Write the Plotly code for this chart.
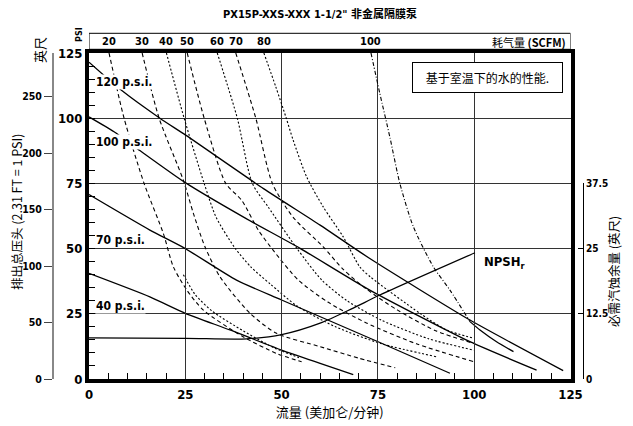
import plotly.graph_objects as go

# ---------------- data ----------------
# Discharge pressure curves: flow (US gpm) vs head (psi)
flow_120psi = [0, 8.6, 18.4, 25.1, 45.3, 60, 72.9, 98.9, 123.1]
head_120psi = [121.5, 110.5, 100, 93.5, 73, 59, 46.2, 22.6, 3.2]
flow_100psi = [0, 6.5, 13.3, 25, 40.7, 54.8, 73, 98.9, 116.2]
head_100psi = [100.5, 94.8, 87.5, 75.3, 61.6, 50.1, 34, 14.3, 3.4]
flow_70psi = [0, 15.8, 24.9, 38.3, 50, 75.5, 93.7]
head_70psi = [70.7, 57.1, 50.1, 37.9, 30.3, 14, 2.2]
flow_40psi = [0, 15.8, 25, 36.6, 50, 60, 68.6]
head_40psi = [40.5, 31.5, 25.2, 18.8, 11.1, 6, 1.7]
pressure_labels = ["120 p.s.i.", "100 p.s.i.", "70 p.s.i.", "40 p.s.i."]

# Air consumption curves (SCFM)
flow_scfm20 = [5.2, 9.1, 14.3, 19.3, 21.9, 25.4, 29.7, 40, 48.7, 55.2]
head_scfm20 = [125, 100, 75, 55.8, 43, 34.1, 26.4, 16.2, 9.8, 6.6]
flow_scfm20b = [24.5, 27.5, 32, 40, 48, 54.5]
head_scfm20b = [40, 32.5, 26, 18.5, 12, 8.2]
flow_scfm30 = [13.8, 18.2, 24.5, 27.1, 30.1, 34, 41.8, 48.7, 60, 70, 79.5]
head_scfm30 = [125, 100, 76.2, 63.5, 50.7, 39.2, 25.2, 17.5, 12.4, 8, 4.3]
flow_scfm40 = [20.1, 24.7, 29.9, 33, 38, 42, 47, 54, 64, 76, 90.3]
head_scfm40 = [125, 100, 75, 62, 50, 43, 36.5, 28, 20, 13.5, 8.5]
flow_scfm50 = [25.5, 29.9, 35.5, 39.6, 44, 48, 54.3, 62, 72, 85, 100]
head_scfm50 = [125, 100, 75, 68.6, 57, 49, 38, 29.5, 21.5, 13.5, 6.6]
flow_scfm60 = [33.3, 38.5, 42.4, 46.5, 54, 60.4, 67, 76, 88, 100]
head_scfm60 = [125, 100, 75, 66, 50, 38, 30, 22.5, 15.5, 11]
flow_scfm70 = [38.1, 43.3, 47.6, 53, 60.8, 66, 72, 80, 90, 100]
head_scfm70 = [125, 100, 75, 62, 50.7, 42, 34.5, 26.5, 18.5, 13.6]
flow_scfm80 = [45.4, 48.5, 51.1, 53, 56.5, 60.8, 66, 70.3, 73, 85.9, 92.8, 100]
head_scfm80 = [125, 112, 100.5, 91.6, 77.5, 66, 54.5, 43, 39.2, 25.2, 18.8, 15.6]
flow_scfm100 = [73.2, 75.5, 78.1, 80.7, 84.2, 89.4, 93.7, 98.9]
head_scfm100 = [125, 109.5, 92.8, 75, 58.4, 43, 34.1, 22]
flow_scfm100_end = [98.9, 101.5, 105.8, 110.2]
head_scfm100_end = [22, 18.8, 14.3, 10.5]
scfm_labels = ["20", "30", "40", "50", "60", "70", "80", "100"]

# NPSHr (ft)
flow_npsh = [0, 25, 41, 50, 60, 68.6, 75.5, 100.2]
npsh_ft = [7.9, 7.8, 7.7, 8.5, 10.7, 13.6, 16.1, 24.2]

# axes
flow_ticks = [0, 25, 50, 75, 100, 125]
psi_ticks = [0, 25, 50, 75, 100, 125]
feet_ticks = [0, 50, 100, 150, 200, 250]
npsh_ticks = [0, 12.5, 25, 37.5]
npsh_ticktext = ["0", "12.5", "25", "37.5"]
FT_PER_PSI = 2.31

# ---------------- layout geometry ----------------
OFF = 8                      # page body margin of the browser
W, H = 625, 418              # figure size (page minus body margin)
X0_PX, X1_PX = 89, 570.5     # plot area, page pixels
Y0_PX, Y1_PX = 53, 379
ML = 22
MR = 40
MT = Y0_PX - OFF
MB = H - (Y1_PX - OFF)
PW = W - ML - MR
PH = H - MT - MB


def pxx(page_x):
    return (page_x - OFF - ML) / PW


def pxy(page_y):
    return (H - MB - (page_y - OFF)) / PH


dom0 = pxx(X0_PX)
dom1 = pxx(X1_PX)
feet_pos = pxx(53)
npsh_pos = pxx(583)

NUM = "Liberation Sans Narrow, Arial Narrow, DejaVu Sans Condensed, sans-serif"
CJK = "Noto Sans CJK SC"

fig = go.Figure()

solid = dict(color="black", width=1.3, shape="spline", smoothing=0.6)
for fx, hy in [(flow_120psi, head_120psi), (flow_100psi, head_100psi),
               (flow_70psi, head_70psi), (flow_40psi, head_40psi)]:
    fig.add_trace(go.Scatter(x=fx, y=hy, mode="lines", line=solid,
                             showlegend=False, hoverinfo="skip"))

DASH = "4px,3px"
DOT = "2px,2px"
DASHDOT = "4px,2px,1px,2px"
scfm_sets = [
    (flow_scfm20, head_scfm20, DASH),
    (flow_scfm30, head_scfm30, DASH),
    (flow_scfm40, head_scfm40, DOT),
    (flow_scfm50, head_scfm50, DASH),
    (flow_scfm60, head_scfm60, DOT),
    (flow_scfm70, head_scfm70, DASH),
    (flow_scfm80, head_scfm80, DOT),
    (flow_scfm100, head_scfm100, DASHDOT),
]
for fx, hy, dsh in scfm_sets:
    fig.add_trace(go.Scatter(x=fx, y=hy, mode="lines",
                             line=dict(color="black", width=1.1, dash=dsh,
                                       shape="spline", smoothing=0.7),
                             showlegend=False, hoverinfo="skip"))
fig.add_trace(go.Scatter(x=flow_scfm20b, y=head_scfm20b, mode="lines",
                         line=dict(color="black", width=1.1, dash=DOT,
                                   shape="spline", smoothing=0.7),
                         showlegend=False, hoverinfo="skip"))
fig.add_trace(go.Scatter(x=flow_scfm100_end, y=head_scfm100_end, mode="lines",
                         line=solid, showlegend=False, hoverinfo="skip"))

# NPSHr on its own right axis
fig.add_trace(go.Scatter(x=flow_npsh, y=npsh_ft, mode="lines", yaxis="y3",
                         line=dict(color="black", width=1.3, shape="spline", smoothing=0.8),
                         showlegend=False, hoverinfo="skip"))
# feet axis carrier
fig.add_trace(go.Scatter(x=[None], y=[None], yaxis="y2", showlegend=False,
                         hoverinfo="skip"))

annotations = []
# pressure labels
for txt, yv in zip(pressure_labels, [113.8, 90.8, 53.3, 28.0]):
    annotations.append(dict(x=1.6, y=yv, xref="x", yref="y", text="<b>%s</b>" % txt,
                            showarrow=False, xanchor="left", yanchor="middle",
                            font=dict(family=NUM, size=12, color="black"),
                            bgcolor="white", borderpad=0))
# SCFM labels in the top strip
strip_y = pxy(41.5)
for fx, lab in zip([s[0] for s in scfm_sets], scfm_labels):
    annotations.append(dict(x=fx[0], y=strip_y, xref="x", yref="paper", text="<b>%s</b>" % lab,
                            showarrow=False, xanchor="center", yanchor="middle",
                            font=dict(family=NUM, size=11, color="black")))
annotations.append(dict(x=124.3, y=strip_y, xref="x", yref="paper",
                        text="耗气量 <b>(SCFM)</b>", showarrow=False,
                        xanchor="right", yanchor="middle",
                        font=dict(family=CJK + ", " + NUM, size=11, color="black")))
annotations.append(dict(x=pxx(79), y=pxy(35), xref="paper", yref="paper",
                        text="<b>PSI</b>", textangle=-90, showarrow=False,
                        xanchor="center", yanchor="middle",
                        font=dict(family=NUM, size=9, color="black")))
annotations.append(dict(x=pxx(39), y=pxy(50), xref="paper", yref="paper",
                        text="英尺", textangle=-90, showarrow=False,
                        xanchor="center", yanchor="middle",
                        font=dict(family=CJK, size=13, color="black")))
# axis titles placed explicitly
annotations.append(dict(x=pxx(16), y=pxy(212), xref="paper", yref="paper",
                        text="排出总压头 (2.31 FT = 1 PSI)", textangle=-90, showarrow=False,
                        xanchor="center", yanchor="middle",
                        font=dict(family=CJK, size=12.5, color="black")))
annotations.append(dict(x=pxx(613), y=pxy(272), xref="paper", yref="paper",
                        text="必需汽蚀余量 (英尺)", textangle=-90, showarrow=False,
                        xanchor="center", yanchor="middle",
                        font=dict(family=CJK, size=12.5, color="black")))
annotations.append(dict(x=103.4, y=115.5, xref="x", yref="y",
                        text="基于室温下的水的性能.", showarrow=False,
                        width=139, height=19, borderpad=5, borderwidth=1,
                        bordercolor="black", bgcolor="white",
                        font=dict(family=CJK, size=12, color="black")))
annotations.append(dict(x=102, y=44.8, xref="x", yref="y",
                        text="<b>NPSH<sub>r</sub></b>", showarrow=False,
                        xanchor="left", yanchor="middle",
                        font=dict(family=NUM, size=13, color="black")))

shapes = [dict(type="rect", xref="x", yref="paper", x0=flow_ticks[0], x1=flow_ticks[-1],
               y0=pxy(49.3), y1=pxy(33.3),
               line=dict(color="black", width=1), fillcolor="rgba(0,0,0,0)")]

tickfont_main = dict(family=NUM, size=13, color="black", weight="bold")

fig.update_layout(
    width=W, height=H,
    margin=dict(l=ML, r=MR, t=MT, b=MB, pad=0),
    paper_bgcolor="white", plot_bgcolor="rgba(0,0,0,0)",
    title=dict(text="<b>PX15P-XXS-XXX 1-1/2\" 非金属隔膜泵</b>", x=(320 - OFF) / W,
               xref="container", y=1 - (14 - OFF) / H, yref="container",
               xanchor="center", yanchor="middle",
               font=dict(family=NUM + ", " + CJK, size=11, color="black")),
    xaxis=dict(domain=[dom0, dom1], range=[flow_ticks[0], flow_ticks[-1]],
               tickvals=flow_ticks, ticks="inside", ticklen=6, tickcolor="black",
               minor=dict(dtick=5, ticks="inside", ticklen=6, tickcolor="black", showgrid=False),
               showline=True, linecolor="black", linewidth=4, mirror=True,
               showgrid=True, gridcolor="#333", gridwidth=1, zeroline=False,
               tickfont=tickfont_main,
               title=dict(text="流量 (美加仑/分钟)", standoff=6,
                          font=dict(family=CJK, size=13, color="black")),
               automargin=False),
    yaxis=dict(domain=[0, 1], range=[psi_ticks[0], psi_ticks[-1]],
               tickvals=psi_ticks, ticks="inside", ticklen=6, tickcolor="black",
               minor=dict(dtick=5, ticks="inside", ticklen=6, tickcolor="black", showgrid=False),
               showline=True, linecolor="black", linewidth=4, mirror=True,
               showgrid=True, gridcolor="#333", gridwidth=1, zeroline=False,
               tickfont=tickfont_main, automargin=False),
    yaxis2=dict(overlaying="y", anchor="free", position=feet_pos, side="left",
                range=[psi_ticks[0] * FT_PER_PSI, psi_ticks[-1] * FT_PER_PSI],
                tickvals=feet_ticks, ticks="outside", ticklen=8, tickcolor="#444",
                showline=True, linecolor="#888", linewidth=2, showgrid=False, zeroline=False,
                tickfont=dict(family=NUM, size=10.5, color="black", weight="bold"),
                automargin=False),
    yaxis3=dict(anchor="free", position=npsh_pos, side="right", domain=[0, 0.6],
                range=[npsh_ticks[0], npsh_ticks[-1]],
                tickvals=npsh_ticks, ticktext=npsh_ticktext,
                ticks="inside", ticklen=5, tickcolor="black",
                showline=True, linecolor="black", linewidth=1, showgrid=False, zeroline=False,
                tickfont=dict(family=NUM, size=10, color="black", weight="bold"),
                automargin=False),
    annotations=annotations,
    shapes=shapes,
)

fig.write_html("out.html")
